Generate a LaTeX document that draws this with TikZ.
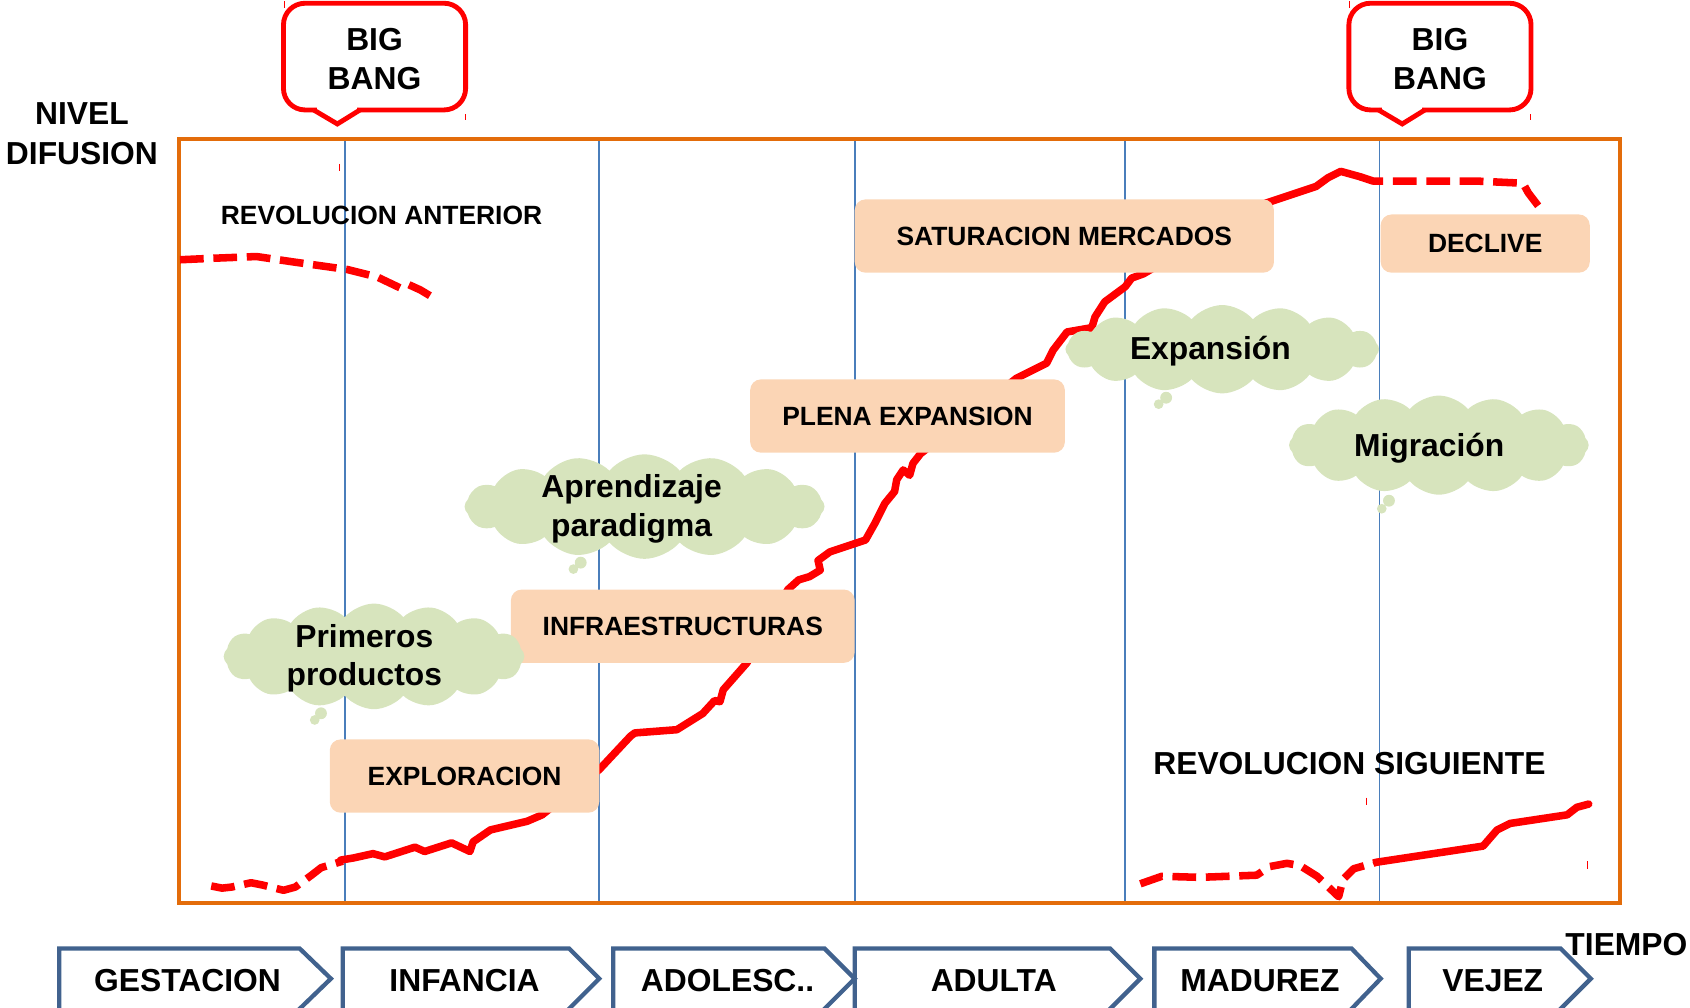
\documentclass[tikz,border=0pt]{standalone}
\usepackage{fontspec}
\setmainfont{Liberation Sans}
\usetikzlibrary{shapes.symbols,shapes.callouts}
\definecolor{peach}{HTML}{FBD5B5}
\definecolor{cloudg}{HTML}{D7E4BD}
\definecolor{frameor}{HTML}{E36C0A}
\definecolor{gridb}{HTML}{4A7EBB}
\definecolor{chevb}{HTML}{41628E}
\definecolor{curvered}{HTML}{FF0000}
\begin{document}
\begin{tikzpicture}[x=1pt,y=-1pt,
  lbl/.style={font=\fontsize{29.5}{35.5}\selectfont\bfseries, align=center, inner sep=0pt},
  smalllbl/.style={font=\fontsize{24.5}{29}\selectfont\bfseries, inner sep=0pt},
  phasebox/.style={fill=peach, rounded corners=10pt, inner sep=0pt, font=\fontsize{24.5}{29}\selectfont\bfseries},
  thought/.style={cloud callout, cloud puffs=16, cloud puff arc=100, cloud ignores aspect,
     callout pointer segments=2, callout pointer start size=16pt and 13pt,
     callout pointer end size=11pt and 9pt, fill=cloudg, draw=none, inner sep=0pt, outer sep=0pt},
  bangbox/.style={draw=red, line width=4.5pt, fill=white, rounded corners=20pt, inner sep=0pt,
     minimum width=169pt, minimum height=99pt, font=\fontsize{29.5}{36}\selectfont\bfseries, align=center},
  gridline/.style={gridb, line width=1.5pt},
  curve/.style={curvered, line width=7pt, line join=round, line cap=round},
  dcurve/.style={curvered, line width=7pt, dash pattern=on 22pt off 9pt, line join=round},
  chev/.style={chevb, line width=4pt, line join=miter},
  tick/.style={red, line width=1pt},
]
\useasboundingbox (0,0) rectangle (1568,935);

% grid lines
\foreach \gx in {320,556,793,1044,1280}
  \draw[gridline] (\gx,129) -- (\gx,838);

% frame
\draw[frameor, line width=4pt] (166,129) rectangle (1503,838);

% revolucion anterior
\draw[dcurve] (167,241) -- (198,239.6) -- (238,238) -- (272,243) -- (322,250) -- (350,257) -- (371,267) -- (379,264) -- (390,269) -- (400,275);

% main curve
\draw[dcurve] (196,822) -- (206,824) -- (215,823) -- (233,819) -- (243,821) -- (263,826) -- (274,823) -- (289,812) -- (298,805) -- (318,799);
\draw[curve] (316,798) -- (328,796) -- (346,792) -- (357,795) -- (385,786) -- (394,790) -- (419,782) -- (436,790) -- (439,781) -- (455,770) -- (489,762) -- (503,756) -- (556,714) -- (585,683) -- (589,680) -- (628,677) -- (652,662) -- (663,650) -- (668,651) -- (671,640) -- (693,615) -- (731,547) -- (741,538) -- (751,535) -- (761,529) -- (759,520) -- (770,512) -- (803,501) -- (812,485) -- (821,467) -- (830,456) -- (832,445) -- (838,436) -- (844,441) -- (847,430) -- (854,421) -- (943,351) -- (971,337) -- (977,325) -- (990,308) -- (1013,304) -- (1016,294) -- (1025,280) -- (1044,266) -- (1050,258) -- (1061,254) -- (1170,190) -- (1188,184) -- (1221,173) -- (1232,165) -- (1244,159) -- (1262,164);
\draw[dcurve] (1262,164) -- (1274,168) -- (1320,168) -- (1370,168) -- (1413,170) -- (1418,179) -- (1431,196);

% revolucion siguiente
\draw[dcurve] (1058,820) -- (1078,813) -- (1113,814) -- (1166,812) -- (1178,804) -- (1194,801) -- (1206,803) -- (1222,813) -- (1242,832) -- (1246,816) -- (1256,806) -- (1277,800);
\draw[curve] (1277,800) -- (1376,785) -- (1389,770) -- (1401,764) -- (1454,756) -- (1463,749) -- (1474,746);

% phase boxes
\node[phasebox, minimum width=250pt, minimum height=68pt] (explo) at (431,720) {EXPLORACION};
\node[phasebox, minimum width=319pt, minimum height=68pt] (infra) at (633.5,581) {INFRAESTRUCTURAS};
\node[phasebox, minimum width=292pt, minimum height=68pt] (plena) at (842,386) {PLENA EXPANSION};
\node[phasebox, minimum width=389pt, minimum height=68pt] (satur) at (987.5,219) {SATURACION MERCADOS};
\node[phasebox, minimum width=194pt, minimum height=54pt] (decl) at (1378,226) {DECLIVE};

% clouds
\node[thought, minimum width=279pt, minimum height=98pt, callout absolute pointer={(292,668)}] (c1) at (347,609) {};
\node[thought, minimum width=334pt, minimum height=97pt, callout absolute pointer={(532,528)}] (c2) at (598,470) {};
\node[thought, minimum width=291pt, minimum height=82pt, callout absolute pointer={(1075,375)}] (c3) at (1134,324) {};
\node[thought, minimum width=278pt, minimum height=92pt, callout absolute pointer={(1282,472)}] (c4) at (1335,413) {};
\node[lbl] (t1) at (338,611) {Primeros\\productos};
\node[lbl] (t2) at (586,472) {Aprendizaje\\paradigma};
\node[lbl] (t3) at (1123,326) {Expansión};
\node[lbl] (t4) at (1326,416) {Migración};

% big bang callouts
\node[bangbox] (bb1) at (347.5,52.5) {\strut BIG\\BANG};
\fill[white] (294,98) rectangle (331,107);
\draw[red, line width=4.5pt, line join=miter, fill=white] (291,102) -- (313,115) -- (334,102);
\node[bangbox] (bb2) at (1336,52.5) {\strut BIG\\BANG};
\fill[white] (1282,98) rectangle (1319,107);
\draw[red, line width=4.5pt, line join=miter, fill=white] (1279,102) -- (1301,115) -- (1322,102);

% small marks
\draw[tick] (264,1) -- (264,7);
\draw[tick] (432,106) -- (432,111);
\draw[tick] (315,152) -- (315,159);
\draw[tick] (1252,1) -- (1252,7);
\draw[tick] (1420,106) -- (1420,111);
\draw[tick] (1268,740) -- (1268,747);
\draw[tick] (1473,799) -- (1473,806);

% labels
\node[lbl, font=\fontsize{29.5}{37}\selectfont\bfseries] (nivel) at (76,124) {NIVEL\\DIFUSION};
\node[smalllbl] (revant) at (354,200) {REVOLUCION ANTERIOR};
\node[lbl] (revsig) at (1252,708) {REVOLUCION SIGUIENTE};
\node[lbl] (tiempo) at (1509,876) {TIEMPO};

% chevrons
\draw[chev] (55,950) -- (55,880) -- (278,880) -- (307,908) -- (263.5,950);
\draw[chev] (318,950) -- (318,880) -- (528,880) -- (556,908) -- (514,950);
\draw[chev] (569,950) -- (569,880) -- (765,880) -- (793,908) -- (751,950);
\draw[chev] (793,950) -- (793,880) -- (1030,880) -- (1058,908) -- (1016,950);
\draw[chev] (1071,950) -- (1071,880) -- (1254,880) -- (1281,908) -- (1240.5,950);
\draw[chev] (1307,950) -- (1307,880) -- (1448,880) -- (1476,908) -- (1434,950);
\node[lbl] (ph1) at (174,910) {GESTACION};
\node[lbl] (ph2) at (431,910) {INFANCIA};
\node[lbl] (ph3) at (675,910) {ADOLESC..};
\node[lbl] (ph4) at (922,910) {ADULTA};
\node[lbl] (ph5) at (1169,910) {MADUREZ};
\node[lbl] (ph6) at (1385,910) {VEJEZ};
\end{tikzpicture}
\end{document}
